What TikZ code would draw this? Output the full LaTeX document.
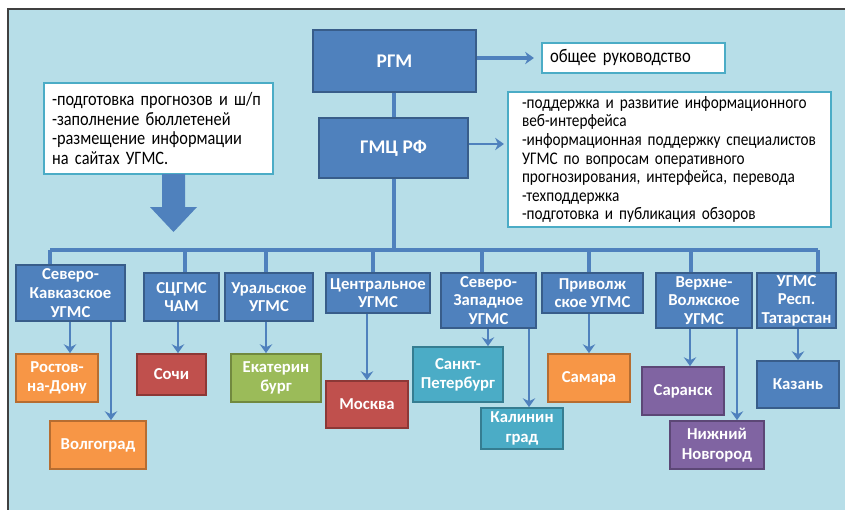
\documentclass[tikz,border=0pt]{standalone}
\usepackage{fontspec}
\setmainfont{Carlito}
\newfontfamily\narrowfont{Carlito}[FakeStretch=0.86, WordSpace=0.85]
\usetikzlibrary{arrows.meta}
\definecolor{bgblue}{HTML}{B7DEE8}
\definecolor{boxblue}{HTML}{4F81BD}
\definecolor{boxblueD}{HTML}{385D8A}
\definecolor{boxorange}{HTML}{F79646}
\definecolor{boxorangeD}{HTML}{B66D31}
\definecolor{boxred}{HTML}{C0504D}
\definecolor{boxredD}{HTML}{8C3836}
\definecolor{boxgreen}{HTML}{9BBB59}
\definecolor{boxgreenD}{HTML}{71893F}
\definecolor{boxteal}{HTML}{4BACC6}
\definecolor{boxtealD}{HTML}{357D91}
\definecolor{boxviolet}{HTML}{8064A2}
\definecolor{boxvioletD}{HTML}{5C4776}
\tikzset{
  wh/.style 2 args={minimum width=#1*0.02cm, minimum height=#2*0.02cm},
  link/.style={draw=boxblue, line width=2.2pt},
  arr/.style={draw=boxblue, line width=1.3pt, -{Stealth[length=5pt,width=7pt]}}
}

\begin{document}
\begin{tikzpicture}[
  x=0.02cm, y=-0.02cm,
  head/.style={rectangle, draw=boxblueD, line width=0.8pt, fill=boxblue, text=white,
               inner sep=0pt, align=center, font=\fontsize{11}{13}\selectfont\bfseries},
  ugms/.style={rectangle, draw=boxblueD, line width=0.8pt, fill=boxblue, text=white,
               inner sep=0pt, align=center, font=\fontsize{9.5}{10.6}\selectfont\bfseries},
  city/.style={rectangle, line width=1pt, text=white, inner sep=0pt, align=center,
               font=\fontsize{9.5}{11}\selectfont\bfseries},
  note/.style={rectangle, draw=boxteal, line width=1.2pt, fill=white, inner ysep=0pt,
               inner xsep=0.16cm, align=left}
]
\useasboundingbox (0,0) rectangle (845,510);
% ---- frame ----
\fill[bgblue] (8,9) rectangle (845,510);
\draw[black!75, line width=1.6pt] (8,510) -- (8,9) -- (845,9);
% ---- top level ----
\node[head, wh={163}{62}] (rgm) at (394.5,61) {РГМ};
\node[head, wh={149}{60}] (gmc) at (393.5,148) {ГМЦ РФ};
\node[note, wh={183}{30}, text width=3.34cm, font=\fontsize{11}{12}\narrowfont] (lead) at (633.5,58) {общее руководство};
\node[note, wh={229}{91}, text width=4.26cm, font=\fontsize{10.8}{11.2}\narrowfont] (tasks) at (158.5,128.5)
  {-подготовка прогнозов и ш/п\\-заполнение бюллетеней\\-размещение информации\\на сайтах УГМС.};
\node[note, wh={323}{135}, inner xsep=0.28cm, text width=5.9cm, font=\fontsize{10.1}{10.6}\narrowfont] (supp) at (669.5,159.5)
  {-поддержка и развитие информационного\\веб-интерфейса\\-информационная поддержку специалистов\\УГМС по вопросам оперативного\\прогнозирования, интерфейса, перевода\\-техподдержка\\-подготовка и публикация обзоров};
\draw[arr, line width=1.8pt] (rgm.east |- lead.west) -- ([xshift=-0.14cm]lead.west);
\draw[arr, line width=1.2pt] ([yshift=0.08cm]gmc.east) -- ([yshift=0.08cm, xshift=-0.06cm]gmc.east -| supp.west);
% ---- block arrow under the tasks ----
\fill[boxblue] (162,174) -- (185,174) -- (185,207) -- (197,207) -- (173.5,232)
  -- (150,207) -- (162,207) -- cycle;
% ---- regional offices ----
\node[ugms, wh={109}{56}] (sk) at (70.5,293) {Северо-\\Кавказское\\УГМС};
\node[ugms, wh={75}{48}] (sc) at (181.5,297) {СЦГМС\\ЧАМ};
\node[ugms, wh={88}{48}] (ur) at (269,297) {Уральское\\УГМС};
\node[ugms, wh={104}{40}] (ce) at (378,293) {Центральное\\УГМС};
\node[ugms, wh={95}{55}] (sz) at (488.5,300.5) {Северо-\\Западное\\УГМС};
\node[ugms, wh={101}{40}] (pv) at (592.5,293) {Приволж\\ское УГМС};
\node[ugms, wh={96}{55}] (vv) at (704,300.5) {Верхне-\\Волжское\\УГМС};
\node[ugms, wh={79}{55}] (ta) at (796.5,300.5) {УГМС\\Респ.\\Татарстан};
% ---- bus ----
\coordinate (bm) at (394,250);
\coordinate (b1) at (50,250);
\coordinate (b2) at (185,250);
\coordinate (b3) at (266,250);
\coordinate (b4) at (373,250);
\coordinate (b5) at (482,250);
\coordinate (b6) at (589,250);
\coordinate (b7) at (691,250);
\coordinate (b8) at (818,250);
\draw[link] (rgm.south -| bm) -- (gmc.north -| bm);
\draw[link] (gmc.south -| bm) -- (bm);
\draw[link] (b1) -- (b8);
\draw[link] (b1) -- (b1 |- sk.north);
\draw[link] (b2) -- (b2 |- sc.north);
\draw[link] (b3) -- (b3 |- ur.north);
\draw[link] (b4) -- (b4 |- ce.north);
\draw[link] (b5) -- (b5 |- sz.north);
\draw[link] (b6) -- (b6 |- pv.north);
\draw[link] (b7) -- (b7 |- vv.north);
\draw[link] (b8) -- (b8 |- ta.north);
% ---- cities ----
\node[city, fill=boxorange, draw=boxorangeD, wh={82}{48}] (rostov) at (57,378) {Ростов-\\на-Дону};
\node[city, fill=boxorange, draw=boxorangeD, wh={96}{48}] (volg) at (98,445) {Волгоград};
\node[city, fill=boxred, draw=boxredD, wh={69}{41}] (sochi) at (171.5,374.5) {Сочи};
\node[city, fill=boxgreen, draw=boxgreenD, wh={90}{48}] (ekb) at (276,378) {Екатерин\\бург};
\node[city, fill=boxred, draw=boxredD, wh={82}{47}] (msk) at (367,404.5) {Москва};
\node[city, fill=boxteal, draw=boxtealD, wh={90}{55}] (spb) at (458,374.5) {Санкт-\\Петербург};
\node[city, fill=boxteal, draw=boxtealD, wh={82}{41}] (kld) at (522,428.5) {Калинин\\град};
\node[city, fill=boxorange, draw=boxorangeD, wh={82}{48}] (sam) at (589,378) {Самара};
\node[city, fill=boxviolet, draw=boxvioletD, wh={82}{48}] (sar) at (683,391) {Саранск};
\node[city, fill=boxviolet, draw=boxvioletD, wh={94}{48}] (nn) at (717,445) {Нижний\\Новгород};
\node[city, fill=boxblue, draw=boxblueD, wh={82}{47}] (kaz) at (798,384.5) {Казань};
% ---- office -> city arrows ----
\draw[arr] (sk.south -| 70,0) -- (rostov.north -| 70,0);
\draw[arr] (sk.south -| 111,0) -- (volg.north -| 111,0);
\draw[arr] (sc.south -| 178,0) -- (sochi.north -| 178,0);
\draw[arr] (ur.south -| 266,0) -- (ekb.north -| 266,0);
\draw[arr] (ce.south -| 367,0) -- (msk.north);
\draw[arr] (sz.south -| 488,0) -- (spb.north -| 488,0);
\draw[arr] (sz.south -| 529,0) -- (kld.north -| 529,0);
\draw[arr] (pv.south -| sam.north) -- (sam.north);
\draw[arr] (vv.south -| 690,0) -- (sar.north -| 690,0);
\draw[arr] (vv.south -| 737,0) -- (nn.north -| 737,0);
\draw[arr] (ta.south -| kaz.north) -- (kaz.north);
\end{tikzpicture}
\end{document}
